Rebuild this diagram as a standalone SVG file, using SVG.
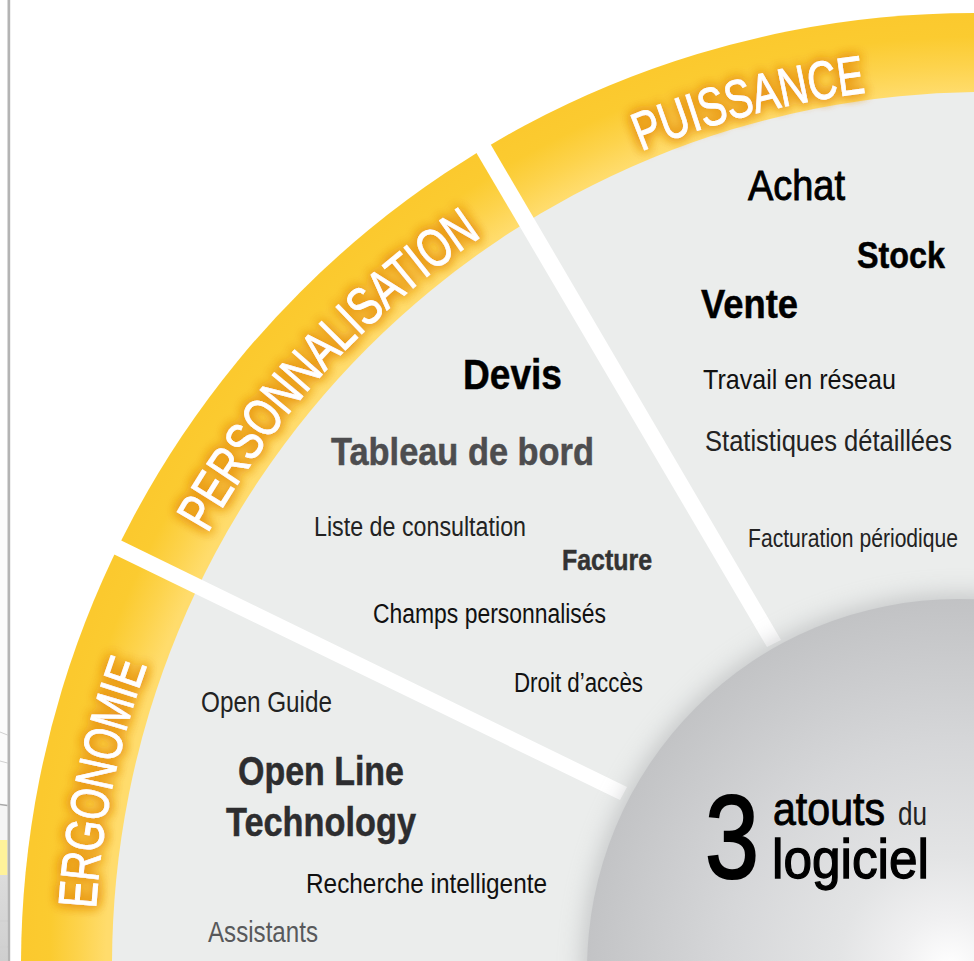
<svg xmlns="http://www.w3.org/2000/svg" xmlns:xlink="http://www.w3.org/1999/xlink" width="974" height="961" viewBox="0 0 974 961">
<style>
text{font-family:"Liberation Sans",Arial,sans-serif;}
.b{font-weight:700;stroke-width:.5;stroke:currentColor;}
.m{stroke-width:.9;}
.band{font-size:54px;fill:#fff;stroke:#fff;stroke-width:.9;filter:url(#glow);}
</style>
<defs>
<radialGradient id="gold" gradientUnits="userSpaceOnUse" cx="979" cy="966" r="953">
<stop offset=".916" stop-color="#ffdc6c"/><stop offset=".945" stop-color="#fdd34c"/><stop offset=".975" stop-color="#fbcb30"/><stop offset="1" stop-color="#fbc92e"/>
</radialGradient>
<radialGradient id="disc" gradientUnits="userSpaceOnUse" cx="950" cy="968" r="372">
<stop offset="0" stop-color="#ffffff"/><stop offset=".14" stop-color="#f0f0f1"/><stop offset=".3" stop-color="#e3e4e5"/><stop offset=".6" stop-color="#d6d7d9"/><stop offset=".85" stop-color="#c9cacc"/><stop offset="1" stop-color="#c1c2c4"/>
</radialGradient>
<linearGradient id="side" x1="0" y1="875" x2="0" y2="961" gradientUnits="userSpaceOnUse">
<stop offset="0" stop-color="#dcdcdc"/><stop offset="1" stop-color="#cfcfcf"/>
</linearGradient>
<filter id="glow" x="-20%" y="-20%" width="140%" height="140%">
<feGaussianBlur in="SourceAlpha" stdDeviation="6" result="b"/>
<feFlood flood-color="#e8961e"/>
<feComposite in2="b" operator="in" result="c"/>
<feMerge><feMergeNode in="c"/><feMergeNode in="c"/><feMergeNode in="c"/><feMergeNode in="SourceGraphic"/></feMerge>
</filter>
<filter id="soft" x="-15%" y="-15%" width="130%" height="130%"><feGaussianBlur stdDeviation="12"/></filter>
<path id="arc" d="M94 966A880 880 0 0 1 974 86"/>
</defs>
<rect width="974" height="961" fill="#fff"/>
<g id="page-edge">
<rect x="0" y="500" width="7.5" height="340" fill="#fbfbfb"/>
<rect x="0" y="806" width="7.5" height="34" fill="#f5f5f5"/>
<rect x="0" y="840" width="7.5" height="35" fill="#fff29a"/>
<rect x="0" y="875" width="7.5" height="86" fill="url(#side)"/>
<path d="M0 732L7.500 735M0 761L7.500 763M0 921H7.500M0 947H7.500" stroke="#cfcfcf" fill="none"/>
<path d="M0 804.500L7.500 805.500" stroke="#a8a8a8" fill="none" stroke-width="1.500"/>
<rect x="7.500" y="0" width="2.700" height="961" fill="#b4b4b4"/>
</g>
<g id="wheel">
<circle cx="974" cy="966" r="953" fill="url(#gold)"/>
<circle cx="985" cy="965" r="873" fill="#ebedec"/>
<polygon points="470,142 484,133 781,640 767,647" fill="#fff"/>
<polygon points="112,536 105,550 620,800 627,787" fill="#fff"/>
</g>
<g id="puissance">
<text class="band"><textPath xlink:href="#arc" href="#arc" startOffset="1041" textLength="233" lengthAdjust="spacingAndGlyphs">PUISSANCE</textPath></text>
<text x="748" y="200" font-size="42" fill="#000" stroke="#000" class="m" textLength="97" lengthAdjust="spacingAndGlyphs">Achat</text>
<text x="857" y="268" font-size="37" class="b" fill="#000" color="#000" textLength="88" lengthAdjust="spacingAndGlyphs">Stock</text>
<text x="701" y="318" font-size="41" class="b" fill="#000" color="#000" textLength="97" lengthAdjust="spacingAndGlyphs">Vente</text>
<text x="703" y="389" font-size="28" fill="#111" textLength="193" lengthAdjust="spacingAndGlyphs">Travail en réseau</text>
<text x="705" y="451" font-size="29" fill="#222" textLength="247" lengthAdjust="spacingAndGlyphs">Statistiques détaillées</text>
<text x="748" y="547" font-size="26" fill="#222" textLength="210" lengthAdjust="spacingAndGlyphs">Facturation périodique</text>
</g>
<g id="personnalisation">
<text class="band"><textPath xlink:href="#arc" href="#arc" startOffset="452" textLength="408" lengthAdjust="spacingAndGlyphs">PERSONNALISATION</textPath></text>
<text x="463" y="389" font-size="43" class="b" fill="#000" color="#000" textLength="99" lengthAdjust="spacingAndGlyphs">Devis</text>
<text x="331" y="465" font-size="39" class="b" fill="#4d4d4f" color="#4d4d4f" textLength="263" lengthAdjust="spacingAndGlyphs">Tableau de bord</text>
<text x="314" y="536" font-size="27" fill="#222" textLength="212" lengthAdjust="spacingAndGlyphs">Liste de consultation</text>
<text x="562" y="570" font-size="29" class="b" fill="#333" color="#333" textLength="90" lengthAdjust="spacingAndGlyphs">Facture</text>
<text x="373" y="623" font-size="27" fill="#111" textLength="233" lengthAdjust="spacingAndGlyphs">Champs personnalisés</text>
<text x="514" y="692" font-size="27" fill="#111" textLength="129" lengthAdjust="spacingAndGlyphs">Droit d’accès</text>
</g>
<g id="ergonomie">
<text class="band"><textPath xlink:href="#arc" href="#arc" startOffset="57" textLength="250" lengthAdjust="spacingAndGlyphs" dy="4">ERGONOMIE</textPath></text>
<text x="201" y="712" font-size="30" fill="#222" textLength="131" lengthAdjust="spacingAndGlyphs">Open Guide</text>
<text x="238" y="785" font-size="41" class="b" fill="#2d2d2f" color="#2d2d2f" textLength="166" lengthAdjust="spacingAndGlyphs">Open Line</text>
<text x="226" y="836" font-size="41" class="b" fill="#2d2d2f" color="#2d2d2f" textLength="190" lengthAdjust="spacingAndGlyphs">Technology</text>
<text x="306" y="893" font-size="28" fill="#111" textLength="241" lengthAdjust="spacingAndGlyphs">Recherche intelligente</text>
<text x="208" y="942" font-size="29" fill="#58595b" textLength="110" lengthAdjust="spacingAndGlyphs">Assistants</text>
</g>
<g id="centre">
<circle cx="958" cy="970" r="375" fill="#9a9b9f" opacity=".5" filter="url(#soft)"/>
<circle cx="958" cy="970" r="371" fill="url(#disc)"/>
<text x="705" y="878" font-size="119" fill="#000" stroke="#000" stroke-width="2.200" textLength="54" lengthAdjust="spacingAndGlyphs">3</text>
<text x="773" y="825" font-size="46" fill="#000" stroke="#000" class="m" textLength="112" lengthAdjust="spacingAndGlyphs">atouts</text>
<text x="898" y="825" font-size="33" fill="#222" textLength="29" lengthAdjust="spacingAndGlyphs">du</text>
<text x="772" y="878" font-size="55" fill="#000" stroke="#000" stroke-width="1.300" textLength="157" lengthAdjust="spacingAndGlyphs">logiciel</text>
</g>
</svg>
